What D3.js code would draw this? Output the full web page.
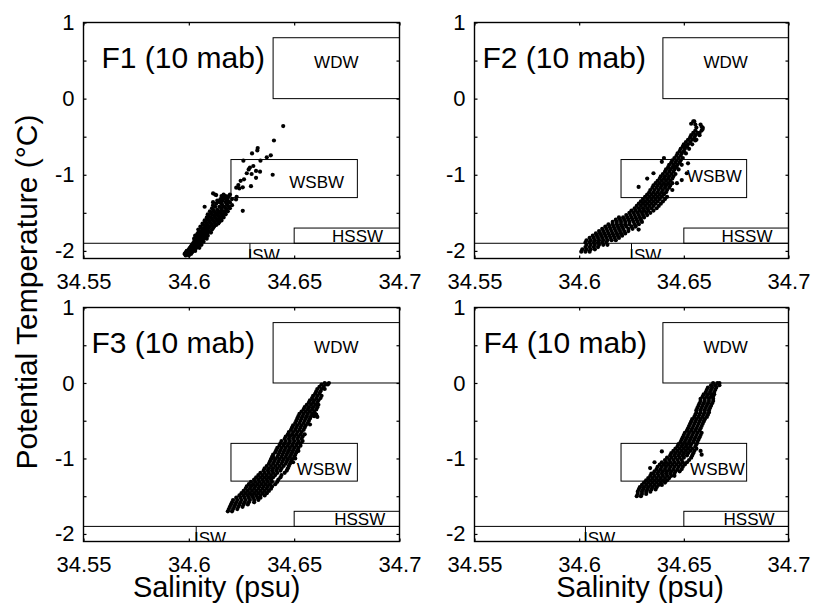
<!DOCTYPE html>
<html>
<head>
<meta charset="utf-8">
<script src="https://cdn.jsdelivr.net/npm/d3@7"></script>
<style>
  body { margin: 0; background: #fff; }
  text { font-family: "Liberation Sans", Arial, Helvetica, sans-serif; fill: #000; }
</style>
</head>
<body>
<div id="chart"></div>
<script>
// Tick values and labels
const salinityTicks = [34.55, 34.6, 34.65, 34.7];
const tempTicks = [-2, -1.5, -1, -0.5, 0, 0.5, 1];
const tempLabelled = [-2, -1, 0, 1];
const panelNames = ["F1 (10 mab)", "F2 (10 mab)", "F3 (10 mab)", "F4 (10 mab)"];

// Water mass boxes (salinity / temperature)
const waterMasses = [
  { name: "WDW", s0: 34.64, s1: 34.7, t0: 0, t1: 0.8 },
  { name: "WSBW", s0: 34.62, s1: 34.68, t0: -1.3, t1: -0.8 },
  { name: "HSSW", s0: 34.65, s1: 34.7, t0: -1.9, t1: -1.7 }
];
const iswTop = -1.9;
const iswLeft = [34.629, 34.625, 34.6035, 34.603];
// label anchors [salinity, temperature] per panel
const wdwLabel = [[34.67, 0.4], [34.67, 0.4], [34.67, 0.4], [34.67, 0.4]];
const wsbwLabel = [[34.6477, -1.18], [34.6515, -1.1], [34.6512, -1.216], [34.653, -1.216]];
const hsswLabel = [[34.668, -1.88], [34.668, -1.88], [34.669, -1.88], [34.669, -1.88]];

// Scatter data, grouped as [temperature, [salinities...]]
const f1Rows = [
  [-2.06, [34.5985, 34.600]],
  [-2.04, [34.598, 34.5995, 34.601]],
  [-2.02, [34.5985, 34.600, 34.6015]],
  [-2.00, [34.599, 34.6005, 34.602, 34.603]],
  [-1.98, [34.600, 34.6015, 34.603]],
  [-1.96, [34.6005, 34.602, 34.6035, 34.605]],
  [-1.94, [34.601, 34.6025, 34.604]],
  [-1.92, [34.6015, 34.603, 34.6045, 34.606]],
  [-1.90, [34.602, 34.6035, 34.605]],
  [-1.88, [34.6025, 34.604, 34.6055, 34.607]],
  [-1.86, [34.603, 34.6045, 34.606]],
  [-1.84, [34.6025, 34.604, 34.6055, 34.607, 34.6085]],
  [-1.82, [34.6035, 34.605, 34.6065, 34.608]],
  [-1.80, [34.603, 34.6045, 34.606, 34.6075, 34.609]],
  [-1.78, [34.604, 34.6055, 34.607, 34.6085]],
  [-1.76, [34.6045, 34.606, 34.6075, 34.609, 34.6105]],
  [-1.74, [34.605, 34.6065, 34.608, 34.6095]],
  [-1.72, [34.6045, 34.607, 34.6085, 34.611]],
  [-1.70, [34.606, 34.6075, 34.6095, 34.6115]],
  [-1.68, [34.6055, 34.608, 34.610, 34.612]],
  [-1.66, [34.607, 34.609, 34.611, 34.613]],
  [-1.64, [34.6065, 34.6085, 34.6105, 34.6125, 34.614]],
  [-1.62, [34.608, 34.610, 34.612, 34.6145]],
  [-1.60, [34.6075, 34.6095, 34.6115, 34.6135, 34.6155]],
  [-1.58, [34.609, 34.611, 34.613, 34.615]],
  [-1.56, [34.6085, 34.6105, 34.6125, 34.6145, 34.6165]],
  [-1.54, [34.6095, 34.612, 34.614, 34.616]],
  [-1.52, [34.609, 34.611, 34.6135, 34.6155, 34.6175]],
  [-1.50, [34.6105, 34.6125, 34.615, 34.617]],
  [-1.48, [34.610, 34.612, 34.614, 34.6165, 34.6185]],
  [-1.46, [34.6115, 34.6135, 34.6155, 34.618]],
  [-1.44, [34.611, 34.6155, 34.6175, 34.6195]],
  [-1.42, [34.6075, 34.6125, 34.6145, 34.617, 34.619]],
  [-1.40, [34.6115, 34.616, 34.6185, 34.6205]],
  [-1.38, [34.613, 34.6155, 34.618]],
  [-1.36, [34.6115, 34.6145, 34.6175, 34.6195]],
  [-1.34, [34.6135, 34.616, 34.6185]],
  [-1.32, [34.615, 34.6175, 34.6205]],
  [-1.30, [34.6165, 34.6185]],
  [-1.28, [34.6155, 34.6175, 34.619]],
  [-1.26, [34.6125, 34.6165, 34.6195]],
  [-1.245, [34.6115]]
];
const f1Scatter = [
  [34.6448, -0.36], [34.6404, -0.55], [34.6327, -0.65], [34.6325, -0.68], [34.630, -0.72],
  [34.637, -0.77], [34.6389, -0.745], [34.634, -0.815], [34.6259, -0.815], [34.6284, -0.93],
  [34.6306, -0.885], [34.6319, -0.95], [34.6338, -0.96], [34.6275, -0.98], [34.6298, -0.99],
  [34.6319, -1.04], [34.6262, -1.06], [34.6246, -1.08], [34.6235, -1.135], [34.624, -1.18],
  [34.6256, -1.165], [34.6295, -1.15], [34.6398, -1.0], [34.6224, -1.325], [34.6256, -1.474],
  [34.6183, -1.31], [34.6227, -1.29], [34.613, -1.267], [34.6225, -1.17], [34.629, -0.905]
];

const f2Rows = [
  [-2.01, [34.601, 34.603, 34.605]],
  [-1.98, [34.6015, 34.6035, 34.6055, 34.6075]],
  [-1.95, [34.603, 34.605, 34.607, 34.609]],
  [-1.92, [34.6035, 34.6055, 34.6075, 34.6095, 34.6115, 34.6135]],
  [-1.89, [34.603, 34.605, 34.607, 34.609, 34.611, 34.613]],
  [-1.86, [34.6035, 34.6055, 34.6075, 34.6095, 34.6115, 34.6135, 34.6155, 34.6175]],
  [-1.83, [34.605, 34.607, 34.609, 34.611, 34.613, 34.615, 34.617, 34.619]],
  [-1.80, [34.6065, 34.6085, 34.6105, 34.6125, 34.6145, 34.6165, 34.6185, 34.6205]],
  [-1.77, [34.608, 34.610, 34.612, 34.614, 34.616, 34.618, 34.620, 34.622]],
  [-1.74, [34.6095, 34.6115, 34.6135, 34.6155, 34.6175, 34.6195, 34.6215, 34.6235]],
  [-1.71, [34.611, 34.613, 34.615, 34.617, 34.619, 34.621, 34.6235, 34.6255]],
  [-1.68, [34.6125, 34.6145, 34.6165, 34.6185, 34.6205, 34.6225, 34.625, 34.627]],
  [-1.65, [34.614, 34.616, 34.618, 34.620, 34.622, 34.624, 34.6265, 34.6285]],
  [-1.62, [34.616, 34.618, 34.620, 34.622, 34.624, 34.626, 34.628, 34.630]],
  [-1.59, [34.6175, 34.6195, 34.6215, 34.6235, 34.6255, 34.6275, 34.6295]],
  [-1.56, [34.619, 34.621, 34.623, 34.625, 34.627, 34.629, 34.631]],
  [-1.53, [34.6225, 34.6245, 34.6265, 34.6285, 34.6305, 34.6325]],
  [-1.50, [34.624, 34.626, 34.628, 34.630, 34.632, 34.634]],
  [-1.47, [34.625, 34.627, 34.629, 34.631, 34.633, 34.6355]],
  [-1.44, [34.6265, 34.6285, 34.6305, 34.6325, 34.6345, 34.637]],
  [-1.41, [34.6275, 34.6295, 34.6315, 34.6335, 34.6355, 34.638]],
  [-1.38, [34.6285, 34.6305, 34.6325, 34.6345, 34.6365, 34.639]],
  [-1.35, [34.6295, 34.6315, 34.6335, 34.6355, 34.6375, 34.640]],
  [-1.32, [34.6305, 34.6325, 34.6345, 34.6365, 34.6385, 34.641]],
  [-1.29, [34.6315, 34.6335, 34.6355, 34.6375, 34.6395, 34.642]],
  [-1.26, [34.6325, 34.6345, 34.6365, 34.6385, 34.6405]],
  [-1.23, [34.6335, 34.6355, 34.6375, 34.6395, 34.6415]],
  [-1.20, [34.634, 34.636, 34.638, 34.640, 34.642]],
  [-1.17, [34.635, 34.637, 34.639, 34.641, 34.643]],
  [-1.14, [34.6355, 34.6375, 34.6395, 34.6415, 34.6435]],
  [-1.11, [34.6365, 34.6385, 34.6405, 34.6425, 34.6445]],
  [-1.08, [34.6375, 34.6395, 34.6415, 34.6435]],
  [-1.05, [34.6385, 34.6405, 34.6425, 34.6445]],
  [-1.02, [34.639, 34.641, 34.643, 34.645]],
  [-0.99, [34.640, 34.642, 34.644, 34.646]],
  [-0.96, [34.641, 34.643, 34.645]],
  [-0.93, [34.6415, 34.6435, 34.6455, 34.6475]],
  [-0.90, [34.6425, 34.6445, 34.6465]],
  [-0.87, [34.643, 34.645, 34.647, 34.649]],
  [-0.84, [34.644, 34.646, 34.648]],
  [-0.81, [34.6445, 34.6465, 34.6485]],
  [-0.78, [34.6455, 34.6475, 34.6495]],
  [-0.75, [34.6465, 34.6485]],
  [-0.72, [34.647, 34.649, 34.651]],
  [-0.69, [34.648, 34.650]],
  [-0.66, [34.6485, 34.6505, 34.6525]],
  [-0.63, [34.6495, 34.6515]],
  [-0.60, [34.650, 34.652, 34.654]],
  [-0.57, [34.651, 34.653]],
  [-0.54, [34.652, 34.654, 34.656]],
  [-0.51, [34.653, 34.655]],
  [-0.48, [34.6535, 34.6555, 34.6575]],
  [-0.45, [34.6545, 34.6565]],
  [-0.42, [34.6555, 34.6585]],
  [-0.38, [34.656, 34.659]],
  [-0.34, [34.6555, 34.658]],
  [-0.30, [34.655]]
];
const f2Scatter = [
  [34.6467, -1.11], [34.652, -0.85], [34.6284, -1.16], [34.6284, -1.72], [34.6459, -0.894],
  [34.649, -1.07], [34.6514, -0.98], [34.6405, -0.78], [34.6575, -0.45], [34.659, -0.40],
  [34.6585, -0.37], [34.6545, -0.30], [34.6535, -0.33], [34.6325, -1.05], [34.6355, -0.98],
  [34.6395, -0.83], [34.6505, -0.62], [34.6445, -1.2], [34.6555, -0.55]
];

const f3Rows = [
  [-1.70, [34.6185, 34.6205]],
  [-1.67, [34.619, 34.621, 34.623]],
  [-1.64, [34.6195, 34.6215, 34.6235, 34.6255]],
  [-1.61, [34.620, 34.622, 34.624, 34.626, 34.628]],
  [-1.58, [34.6205, 34.6225, 34.6245, 34.6265, 34.6285, 34.631]],
  [-1.55, [34.621, 34.623, 34.625, 34.627, 34.629, 34.631, 34.633]],
  [-1.52, [34.6225, 34.6245, 34.6265, 34.6285, 34.6305, 34.6325, 34.634]],
  [-1.49, [34.624, 34.626, 34.628, 34.630, 34.632, 34.634, 34.636]],
  [-1.46, [34.625, 34.627, 34.629, 34.631, 34.633, 34.635, 34.637]],
  [-1.43, [34.626, 34.628, 34.630, 34.632, 34.634, 34.636, 34.638]],
  [-1.40, [34.627, 34.629, 34.631, 34.633, 34.635, 34.637, 34.639]],
  [-1.37, [34.6275, 34.6295, 34.6315, 34.6335, 34.6355, 34.6375, 34.6395]],
  [-1.34, [34.6285, 34.6305, 34.6325, 34.6345, 34.6365, 34.6385, 34.641]],
  [-1.31, [34.6295, 34.6315, 34.6335, 34.6355, 34.6375, 34.6395, 34.642]],
  [-1.28, [34.631, 34.633, 34.635, 34.637, 34.639, 34.6425]],
  [-1.25, [34.632, 34.634, 34.636, 34.638, 34.640, 34.6435]],
  [-1.22, [34.633, 34.635, 34.637, 34.639, 34.641, 34.644]],
  [-1.19, [34.634, 34.636, 34.638, 34.640, 34.642, 34.6455]],
  [-1.16, [34.6355, 34.6375, 34.6395, 34.6415, 34.6435, 34.6465]],
  [-1.13, [34.636, 34.638, 34.640, 34.642, 34.644, 34.647]],
  [-1.10, [34.637, 34.639, 34.641, 34.643, 34.645, 34.6475]],
  [-1.07, [34.638, 34.640, 34.642, 34.644, 34.646, 34.648]],
  [-1.04, [34.6385, 34.6405, 34.6425, 34.6445, 34.6465, 34.6485]],
  [-1.01, [34.639, 34.641, 34.643, 34.645, 34.647, 34.649]],
  [-0.98, [34.640, 34.642, 34.644, 34.646, 34.648, 34.650]],
  [-0.95, [34.640, 34.6425, 34.6445, 34.6465, 34.6485, 34.6505]],
  [-0.92, [34.641, 34.643, 34.645, 34.647, 34.649, 34.651]],
  [-0.89, [34.6415, 34.6435, 34.6455, 34.6475, 34.6495, 34.6515]],
  [-0.86, [34.642, 34.644, 34.646, 34.648, 34.650, 34.652]],
  [-0.83, [34.643, 34.645, 34.647, 34.649, 34.651, 34.653]],
  [-0.80, [34.6435, 34.6455, 34.6475, 34.6495, 34.6515, 34.653]],
  [-0.77, [34.644, 34.646, 34.648, 34.650, 34.652, 34.654]],
  [-0.74, [34.6455, 34.6475, 34.6495, 34.6515, 34.6535]],
  [-0.71, [34.646, 34.648, 34.650, 34.652, 34.654]],
  [-0.68, [34.647, 34.649, 34.651, 34.653, 34.655]],
  [-0.65, [34.6475, 34.6495, 34.6515, 34.6535]],
  [-0.62, [34.6485, 34.6505, 34.6525, 34.6545]],
  [-0.59, [34.649, 34.651, 34.653, 34.655]],
  [-0.56, [34.6495, 34.6515, 34.6535, 34.6555]],
  [-0.53, [34.6505, 34.6525, 34.6545, 34.6565]],
  [-0.50, [34.651, 34.653, 34.655, 34.657]],
  [-0.47, [34.6515, 34.6535, 34.6555, 34.6575]],
  [-0.44, [34.652, 34.654, 34.656, 34.658, 34.6595]],
  [-0.41, [34.6525, 34.6545, 34.6565, 34.6585, 34.660]],
  [-0.38, [34.6535, 34.6555, 34.6575, 34.6595]],
  [-0.35, [34.6545, 34.6565, 34.6585, 34.6605]],
  [-0.32, [34.655, 34.657, 34.659, 34.661]],
  [-0.29, [34.656, 34.658, 34.660, 34.6615]],
  [-0.26, [34.657, 34.659, 34.661]],
  [-0.23, [34.6575, 34.6595, 34.6615]],
  [-0.20, [34.6585, 34.6605, 34.6625]],
  [-0.17, [34.659, 34.661, 34.663]],
  [-0.14, [34.660, 34.662]],
  [-0.11, [34.6605, 34.6625]],
  [-0.08, [34.661, 34.663, 34.6645]],
  [-0.05, [34.662, 34.664]],
  [-0.02, [34.663, 34.665, 34.666]],
  [0.00, [34.6645, 34.6665]]
];
const f3Scatter = [
  [34.6605, -0.42], [34.661, -0.45], [34.6395, -0.98], [34.6505, -1.0], [34.652, -0.9],
  [34.6575, -0.55], [34.6495, -1.05]
];

const f4Rows = [
  [-1.50, [34.6275, 34.6295]],
  [-1.47, [34.628, 34.630, 34.632]],
  [-1.44, [34.628, 34.630, 34.632, 34.634]],
  [-1.41, [34.6285, 34.6305, 34.6325, 34.6345, 34.6365]],
  [-1.38, [34.629, 34.631, 34.633, 34.635, 34.637]],
  [-1.35, [34.630, 34.632, 34.634, 34.636, 34.638, 34.6395]],
  [-1.32, [34.631, 34.633, 34.635, 34.637, 34.639, 34.641]],
  [-1.29, [34.632, 34.634, 34.636, 34.638, 34.640, 34.642]],
  [-1.26, [34.633, 34.635, 34.637, 34.639, 34.641, 34.643]],
  [-1.23, [34.634, 34.636, 34.638, 34.640, 34.642, 34.644, 34.6455]],
  [-1.20, [34.6355, 34.6375, 34.6395, 34.6415, 34.6435, 34.6455]],
  [-1.17, [34.636, 34.638, 34.640, 34.642, 34.644, 34.646, 34.648]],
  [-1.14, [34.637, 34.639, 34.641, 34.643, 34.645, 34.647, 34.649]],
  [-1.11, [34.6375, 34.6395, 34.6415, 34.6435, 34.6455, 34.6475, 34.6495]],
  [-1.08, [34.6385, 34.6405, 34.6425, 34.6445, 34.6465, 34.6485, 34.6505]],
  [-1.05, [34.6395, 34.6415, 34.6435, 34.6455, 34.6475, 34.6495, 34.6515]],
  [-1.02, [34.641, 34.643, 34.645, 34.647, 34.649, 34.6525]],
  [-0.99, [34.642, 34.644, 34.646, 34.648, 34.650, 34.6535]],
  [-0.96, [34.6435, 34.6455, 34.6475, 34.6495, 34.6515, 34.654]],
  [-0.93, [34.644, 34.646, 34.648, 34.650, 34.652, 34.6545]],
  [-0.90, [34.645, 34.647, 34.649, 34.651, 34.653, 34.655]],
  [-0.87, [34.646, 34.648, 34.650, 34.652, 34.654, 34.656]],
  [-0.84, [34.647, 34.649, 34.651, 34.653, 34.6555]],
  [-0.81, [34.6475, 34.6495, 34.6515, 34.6535, 34.656]],
  [-0.78, [34.6485, 34.6505, 34.6525, 34.6545, 34.6565]],
  [-0.75, [34.649, 34.651, 34.653, 34.655, 34.657]],
  [-0.72, [34.6495, 34.6515, 34.6535, 34.6555, 34.6575]],
  [-0.69, [34.650, 34.652, 34.654, 34.656, 34.658]],
  [-0.66, [34.6505, 34.6525, 34.6545, 34.6565, 34.6585]],
  [-0.63, [34.6515, 34.6535, 34.6555, 34.6575]],
  [-0.60, [34.652, 34.654, 34.656, 34.658]],
  [-0.57, [34.6525, 34.6545, 34.6565, 34.6585]],
  [-0.54, [34.653, 34.655, 34.657, 34.659]],
  [-0.51, [34.6535, 34.6555, 34.6575, 34.6595]],
  [-0.48, [34.654, 34.656, 34.658, 34.660]],
  [-0.45, [34.655, 34.657, 34.659, 34.661]],
  [-0.42, [34.6555, 34.6575, 34.6595, 34.6615]],
  [-0.39, [34.656, 34.658, 34.660, 34.662]],
  [-0.36, [34.656, 34.658, 34.660, 34.662]],
  [-0.33, [34.6565, 34.6585, 34.6605, 34.6625]],
  [-0.30, [34.657, 34.659, 34.661, 34.663]],
  [-0.27, [34.6575, 34.6595, 34.6615, 34.6635]],
  [-0.24, [34.658, 34.660, 34.662, 34.664]],
  [-0.21, [34.658, 34.660, 34.662, 34.664]],
  [-0.18, [34.659, 34.661, 34.663, 34.664]],
  [-0.15, [34.6595, 34.6615, 34.6635, 34.6645]],
  [-0.12, [34.6605, 34.6625, 34.6645]],
  [-0.09, [34.661, 34.663, 34.665]],
  [-0.06, [34.6615, 34.6635, 34.6655]],
  [-0.03, [34.663, 34.665, 34.667]],
  [0.00, [34.664, 34.666, 34.667]]
];
const f4Scatter = [
  [34.6395, -0.907], [34.6339, -1.127], [34.636, -1.05], [34.6345, -1.2], [34.658, -0.9], [34.6585, -0.95]
];

const panelRows = [f1Rows, f2Rows, f3Rows, f4Rows];
const panelScatter = [f1Scatter, f2Scatter, f3Scatter, f4Scatter];

// Panel frames in pixels
const panels = [
  { left: 83.5, top: 22.5, right: 399.5, bottom: 258.5, titleDx: 18, xLabel: null },
  { left: 474.5, top: 22.5, right: 788.5, bottom: 258.5, titleDx: 8, xLabel: null },
  { left: 83.5, top: 307.5, right: 399.5, bottom: 541.5, titleDx: 8, xLabel: 216.7 },
  { left: 474.5, top: 307.5, right: 788.5, bottom: 541.5, titleDx: 9, xLabel: 640 }
];

const svg = d3.select("#chart").append("svg")
  .attr("width", 814)
  .attr("height", 606);

panels.forEach((p, i) => {
  const x = d3.scaleLinear().domain([34.55, 34.7]).range([p.left, p.right]);
  const y = d3.scaleLinear().domain([-2.1, 1]).range([p.bottom, p.top]);
  const g = svg.append("g");

  // clip to the axes box
  g.append("clipPath").attr("id", "clip" + i)
    .append("rect")
    .attr("x", p.left).attr("y", p.top)
    .attr("width", p.right - p.left).attr("height", p.bottom - p.top);
  const inner = g.append("g").attr("clip-path", `url(#clip${i})`);

  // water mass boxes
  inner.selectAll(".wm")
    .data(waterMasses)
    .enter()
    .append("rect")
    .attr("x", (d) => x(d.s0))
    .attr("y", (d) => y(d.t1))
    .attr("width", (d) => x(d.s1) - x(d.s0))
    .attr("height", (d) => y(d.t0) - y(d.t1))
    .attr("fill", "none")
    .attr("stroke", "#000")
    .attr("stroke-width", 1);

  // ISW: line across the panel plus left edge of the box
  inner.append("line")
    .attr("x1", x(34.55)).attr("x2", x(34.7))
    .attr("y1", y(iswTop)).attr("y2", y(iswTop))
    .attr("stroke", "#000").attr("stroke-width", 1);
  inner.append("line")
    .attr("x1", x(iswLeft[i])).attr("x2", x(iswLeft[i]))
    .attr("y1", y(iswTop)).attr("y2", y(-2.1))
    .attr("stroke", "#000").attr("stroke-width", 1);
  inner.append("text")
    .attr("x", x(iswLeft[i]) - 2.3)
    .attr("y", y(-2.13))
    .attr("font-size", "17px")
    .text("ISW");

  // water mass labels
  inner.append("text")
    .attr("x", x(wdwLabel[i][0])).attr("y", y(wdwLabel[i][1]))
    .attr("text-anchor", "middle").attr("font-size", "17px")
    .text("WDW");
  inner.append("text")
    .attr("x", x(wsbwLabel[i][0])).attr("y", y(wsbwLabel[i][1]))
    .attr("font-size", "17px")
    .text("WSBW");
  inner.append("text")
    .attr("x", x(hsswLabel[i][0])).attr("y", y(hsswLabel[i][1]))
    .attr("font-size", "17px")
    .text("HSSW");

  // scatter points
  const pts = panelRows[i].flatMap(([t, ss]) => ss.map((s) => [s, t])).concat(panelScatter[i]);
  inner.selectAll(".pt")
    .data(pts)
    .enter()
    .append("circle")
    .attr("cx", (d) => x(d[0]))
    .attr("cy", (d) => y(d[1]))
    .attr("r", 2.1)
    .attr("fill", "#000");

  // axes (ticks point inward)
  const bottomAxis = d3.axisBottom(x).tickValues(salinityTicks).tickSizeInner(-3).tickSizeOuter(0)
    .tickPadding(15).tickFormat((d) => d3.format("")(+d.toFixed(3)));
  const topAxis = d3.axisTop(x).tickValues(salinityTicks).tickSizeInner(-3).tickSizeOuter(0).tickFormat("");
  const leftAxis = d3.axisLeft(y).tickValues(tempTicks).tickSizeInner(-3).tickSizeOuter(0)
    .tickPadding(9).tickFormat((d) => (tempLabelled.includes(d) ? d : ""));
  const rightAxis = d3.axisRight(y).tickValues(tempTicks).tickSizeInner(-3).tickSizeOuter(0).tickFormat("");

  [[bottomAxis, `translate(0,${p.bottom})`], [topAxis, `translate(0,${p.top})`],
   [leftAxis, `translate(${p.left},0)`], [rightAxis, `translate(${p.right},0)`]].forEach(([ax, tr]) => {
    const a = g.append("g").attr("transform", tr).call(ax);
    a.select(".domain").remove();
    a.selectAll("line").attr("stroke", "#000").attr("stroke-width", 1.2);
    a.selectAll("text").attr("font-size", "22px").attr("font-family", null).attr("fill", "#000");
  });

  // axes box
  g.append("rect")
    .attr("x", p.left).attr("y", p.top)
    .attr("width", p.right - p.left).attr("height", p.bottom - p.top)
    .attr("fill", "none").attr("stroke", "#000").attr("stroke-width", 1.4);

  // panel title
  g.append("text")
    .attr("x", p.left + p.titleDx)
    .attr("y", p.top + 45)
    .attr("font-size", "30px")
    .text(panelNames[i]);

  if (p.xLabel) {
    g.append("text")
      .attr("x", p.xLabel).attr("y", 597)
      .attr("text-anchor", "middle").attr("font-size", "29px")
      .text("Salinity (psu)");
  }
});

// shared y label
svg.append("text")
  .attr("transform", "translate(37,292) rotate(-90)")
  .attr("text-anchor", "middle")
  .attr("font-size", "30px")
  .text("Potential Temperature (°C)");
</script>
</body>
</html>
